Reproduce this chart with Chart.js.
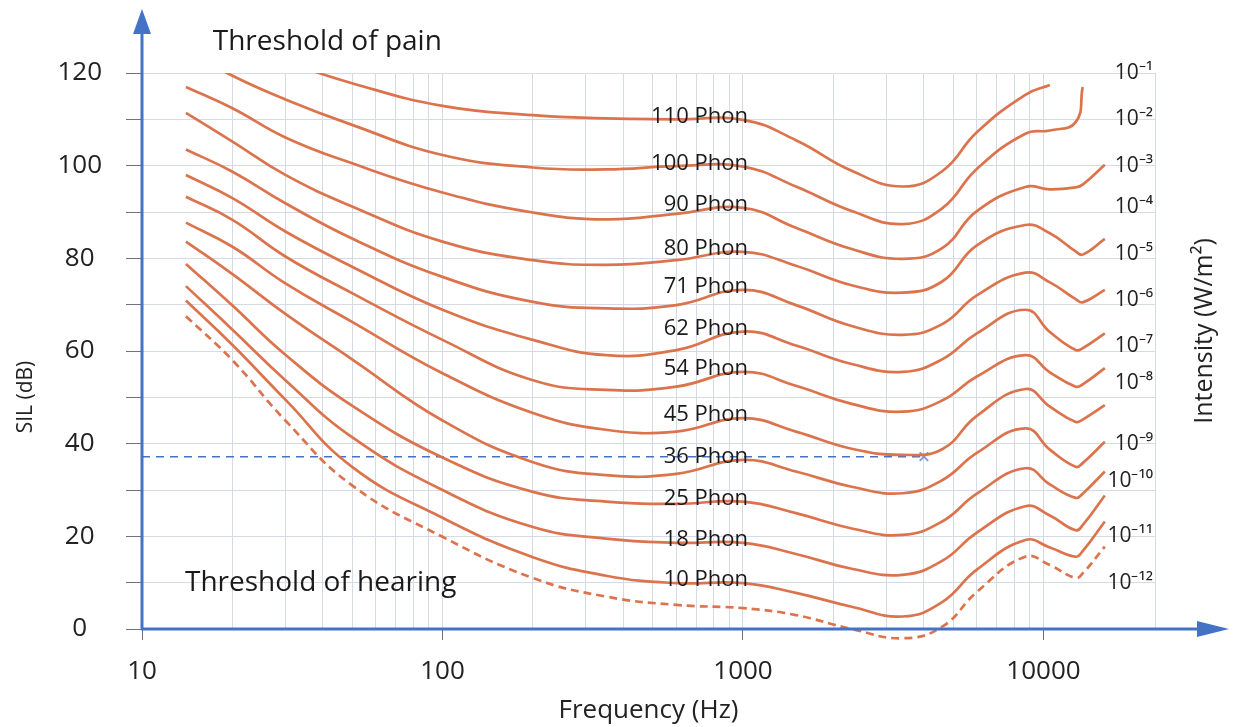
<!DOCTYPE html>
<html>
<head>
<meta charset="utf-8">
<script src="https://cdn.jsdelivr.net/npm/chart.js@4.4.0/dist/chart.umd.min.js"></script>
<style>
  html, body { margin: 0; padding: 0; background: #fff; }
  #wrap { width: 1236px; height: 727px; }
</style>
</head>
<body>
<div id="wrap"><canvas id="myChart"></canvas></div>
<script>
// frequencies (Hz) where every contour is sampled
var freqs = [14, 20, 30, 50, 100, 200, 350, 600, 1000, 1500, 2300, 3400, 4600, 6000, 8700, 10500, 12800, 13500, 16000];

// SIL (dB) of each equal loudness contour
var phon110 = [null, 127, 122.5, 117.8, 112.9, 110.9, 110.2, 110.0, 109.9, 105.5, 98.9, 95.5, 98.8, 107.2, 115.3, 117.4, null, null, null];
var phon100 = [125, 119.4, 114.3, 108.8, 102.3, 99.6, 99.2, 99.9, 99.8, 95.5, 90.2, 87.4, 90.8, 99.3, 106.9, 107.6, 109.4, 117.0, null];
var phon90 = [117.0, 112.4, 106.1, 100.5, 94.2, 89.9, 88.4, 89.6, 90.9, 86.6, 82.0, 79.9, 82.2, 90.2, 95.4, 94.9, 95.3, 95.9, 100.2];
var phon80 = [111.4, 105.2, 98.0, 91.2, 83.6, 79.6, 78.6, 79.6, 81.4, 78.4, 74.2, 72.6, 75.0, 82.8, 87.2, 85.4, 81.5, 80.8, 84.2];
var phon71 = [103.5, 98.7, 91.9, 84.3, 76.0, 70.6, 69.2, 69.9, 73.2, 69.9, 65.4, 63.5, 65.8, 72.0, 76.9, 74.8, 71.2, 70.5, 73.2];
var phon62 = [98.0, 93.0, 85.8, 78.2, 68.9, 62.4, 59.1, 60.2, 64.2, 61.2, 57.2, 55.5, 58.2, 63.8, 68.9, 64.1, 60.2, 60.6, 63.8];
var phon54 = [93.3, 88.3, 80.4, 72.5, 62.4, 53.7, 51.6, 52.3, 55.5, 52.5, 48.6, 46.9, 49.3, 54.5, 59.1, 55.4, 52.3, 52.8, 56.3];
var phon45 = [87.7, 82.5, 74.6, 66.3, 55.2, 46.6, 43.0, 42.6, 45.5, 42.6, 38.9, 37.6, 38.8, 46.0, 51.8, 48.0, 44.7, 45.2, 48.3];
var phon36 = [83.6, 76.6, 68.0, 58.2, 45.0, 36.0, 33.2, 33.5, 36.5, 34.0, 30.7, 29.3, 32.1, 38.0, 43.3, 38.7, 35.0, 35.8, 40.4];
var phon25 = [78.8, 69.8, 59.2, 48.2, 37.0, 29.6, 27.5, 27.0, 27.5, 25.0, 21.7, 20.3, 23.2, 29.2, 34.7, 31.2, 28.3, 29.2, 34.0];
var phon18 = [74.0, 64.6, 53.7, 41.4, 30.0, 22.0, 19.5, 18.6, 18.6, 16.2, 13.0, 11.7, 14.7, 20.8, 26.5, 24.5, 21.3, 22.4, 28.8];
var phon10 = [70.9, 61.3, 49.5, 35.0, 24.0, 15.5, 11.5, 9.9, 9.9, 7.8, 4.8, 2.7, 5.8, 12.8, 19.2, 17.6, 15.6, 16.8, 23.2];
var hearing = [67.5, 58.0, 45.0, 31.0, 19.9, 11.0, 7.0, 5.2, 4.5, 3.0, 0.0, -2.0, 0.5, 8.0, 15.6, 13.8, 11.0, 12.0, 17.8];

var phonNames = ['110 Phon', '100 Phon', '90 Phon', '80 Phon', '71 Phon', '62 Phon', '54 Phon', '45 Phon', '36 Phon', '25 Phon', '18 Phon', '10 Phon'];
var contours = [phon110, phon100, phon90, phon80, phon71, phon62, phon54, phon45, phon36, phon25, phon18, phon10];

// 36 dB at 1 kHz marked across to 4 kHz
var markFreq = [10, 4000];
var markLevel = [37.2, 37.2];

// axis ticks
var xLabels = [10, 100, 1000, 10000];
var xMax = 23500;
var yTicks = [0, 10, 20, 30, 40, 50, 60, 70, 80, 90, 100, 110, 120];
var intensityTicks = [120, 110, 100, 91, 81, 71, 61, 53, 40, 32, 20, 10];
var intensityLabels = ['10⁻¹', '10⁻²', '10⁻³', '10⁻⁴', '10⁻⁵', '10⁻⁶', '10⁻⁷', '10⁻⁸', '10⁻⁹', '10⁻¹⁰', '10⁻¹¹', '10⁻¹²'];

var xGrid = [];
for (var d = 10; d <= 1000; d *= 10) {
  for (var k = 1; k <= 9; k++) xGrid.push(d * k);
}
xGrid.push(10000, xMax);

var curveColor = '#db744d';
var axisBlue = '#4472c4';
var font = "'Open Sans', sans-serif";
Chart.defaults.font.family = font;
Chart.defaults.color = '#222';

function points(vals) {
  return vals.map(function (v, i) { return { x: freqs[i], y: v }; });
}

var datasets = contours.map(function (vals, i) {
  return {
    label: phonNames[i],
    data: points(vals),
    borderColor: curveColor,
    borderWidth: 2.7,
    pointRadius: 0,
    tension: 0.45,
    spanGaps: true
  };
});
datasets.push({
  label: 'Threshold of hearing',
  data: points(hearing),
  borderColor: curveColor,
  borderWidth: 2.7,
  borderDash: [8, 5],
  pointRadius: 0,
  tension: 0.45,
  clip: false
});
datasets.push({
  label: 'mark',
  data: markFreq.map(function (f, i) { return { x: f, y: markLevel[i] }; }),
  borderColor: axisBlue,
  borderWidth: 1.5,
  borderDash: [8, 6],
  pointRadius: [0, 6],
  pointStyle: 'crossRot',
  pointBorderColor: '#7f9ad6',
  pointBorderWidth: 2
});

var extras = {
  id: 'extras',
  afterDatasetsDraw: function (chart) {
    var ctx = chart.ctx, x = chart.scales.x, y = chart.scales.y;
    var i1k = freqs.indexOf(1000);
    ctx.save();
    ctx.fillStyle = '#1a1a1a';
    ctx.font = '22px ' + font;
    ctx.textAlign = 'right';
    ctx.textBaseline = 'middle';
    phonNames.forEach(function (name, i) {
      ctx.fillText(name, x.getPixelForValue(1000) + 5, y.getPixelForValue(contours[i][i1k]) - 3);
    });
    ctx.font = '28px ' + font;
    ctx.textAlign = 'left';
    ctx.fillText('Threshold of pain', x.getPixelForValue(17.2), y.getPixelForValue(126.7));
    ctx.fillText('Threshold of hearing', x.getPixelForValue(13.9), y.getPixelForValue(9.9));
    ctx.restore();
  },
  afterDraw: function (chart) {
    var ctx = chart.ctx, a = chart.chartArea;
    ctx.save();
    ctx.strokeStyle = axisBlue;
    ctx.fillStyle = axisBlue;
    ctx.lineWidth = 3;
    ctx.beginPath();
    ctx.moveTo(a.left, a.bottom + 1);
    ctx.lineTo(a.left, 30);
    ctx.moveTo(a.left - 1, a.bottom);
    ctx.lineTo(1205, a.bottom);
    ctx.stroke();
    ctx.beginPath();
    ctx.moveTo(a.left, 9);
    ctx.lineTo(a.left - 9, 34);
    ctx.lineTo(a.left + 9, 34);
    ctx.closePath();
    ctx.fill();
    ctx.beginPath();
    ctx.moveTo(1229, a.bottom);
    ctx.lineTo(1197, a.bottom - 8);
    ctx.lineTo(1197, a.bottom + 8);
    ctx.closePath();
    ctx.fill();
    // axis titles reading upwards
    ctx.fillStyle = '#222';
    ctx.textAlign = 'center';
    ctx.textBaseline = 'middle';
    ctx.save();
    ctx.translate(26, (a.top + a.bottom) / 2 + 46);
    ctx.rotate(-Math.PI / 2);
    ctx.font = '21px ' + font;
    ctx.fillText('SIL (dB)', 0, 0);
    ctx.restore();
    ctx.translate(chart.scales.y2.right - 31, (a.top + a.bottom) / 2 - 20);
    ctx.rotate(-Math.PI / 2);
    ctx.font = '25px ' + font;
    ctx.fillText('Intensity (W/m²)', 0, 0);
    ctx.restore();
  }
};

const ctx = document.getElementById('myChart').getContext('2d');
const myChart = new Chart(ctx, {
  type: 'line',
  data: { datasets: datasets },
  plugins: [extras],
  options: {
    responsive: true,
    maintainAspectRatio: false,
    animation: false,
    layout: { padding: { top: 73, left: 0, right: 0, bottom: 0 } },
    plugins: { legend: { display: false }, tooltip: { enabled: false } },
    scales: {
      x: {
        type: 'logarithmic',
        min: 10,
        max: xMax,
        afterBuildTicks: function (s) {
          s.ticks = xGrid.map(function (v) { return { value: v }; });
        },
        afterFit: function (s) { s.height = 98; },
        grid: {
          color: '#d6dae6',
          tickLength: 11,
          tickColor: function (c) {
            return c.tick && xLabels.indexOf(c.tick.value) >= 0 ? '#6f7180' : 'rgba(0,0,0,0)';
          }
        },
        border: { display: false },
        ticks: {
          autoSkip: false,
          maxRotation: 0,
          minRotation: 0,
          padding: 16,
          font: { size: 26 },
          color: '#222',
          callback: function (v) { return xLabels.indexOf(v) >= 0 ? String(v) : ''; }
        },
        title: { display: true, text: 'Frequency (Hz)', font: { size: 26 }, color: '#222', padding: { top: 0, bottom: 1 } }
      },
      y: {
        type: 'linear',
        min: 0,
        max: 120,
        afterBuildTicks: function (s) {
          s.ticks = yTicks.map(function (v) { return { value: v }; });
        },
        afterFit: function (s) { s.width = 142; },
        grid: { color: '#d6dae6', tickLength: 16, tickColor: '#6f7180' },
        border: { display: false },
        ticks: {
          crossAlign: 'center',
          padding: 24,
          font: { size: 26 },
          color: '#222',
          callback: function (v) { return v % 20 === 0 ? String(v) : ''; }
        }
      },
      y2: {
        type: 'linear',
        position: 'right',
        min: 0,
        max: 120,
        afterBuildTicks: function (s) {
          s.ticks = intensityTicks.map(function (v) { return { value: v }; });
        },
        afterFit: function (s) { s.width = 81; },
        grid: { display: false, drawTicks: false },
        border: { display: false },
        ticks: {
          mirror: true,
          padding: -2,
          font: { size: 21 },
          color: '#222',
          callback: function (v) {
            var i = intensityTicks.indexOf(v);
            return i >= 0 ? intensityLabels[i] : '';
          }
        }
      }
    }
  }
});
</script>
</body>
</html>
